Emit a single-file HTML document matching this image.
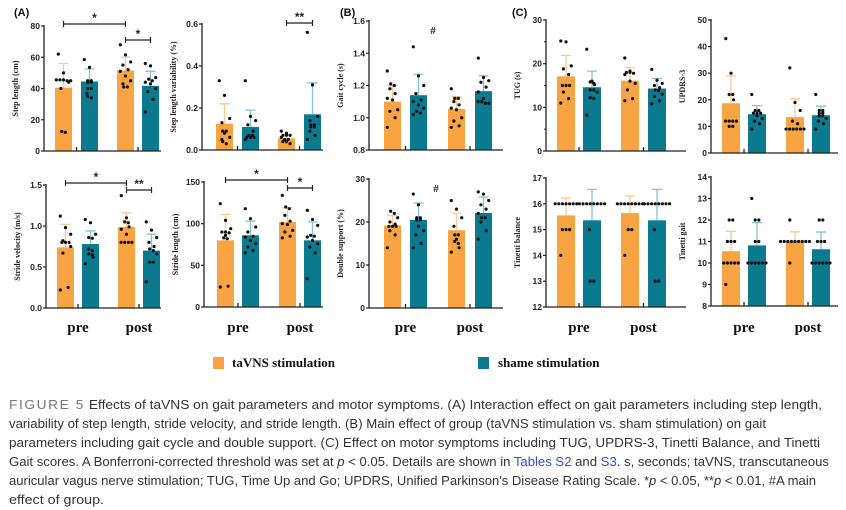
<!DOCTYPE html>
<html><head><meta charset="utf-8">
<style>
html,body{margin:0;padding:0;background:#fff;}
svg{display:block;}
.tk{font-family:"Liberation Sans",sans-serif;font-size:8.5px;font-weight:bold;fill:#222;}
.yl{font-family:"Liberation Serif",serif;font-size:8px;font-weight:bold;fill:#222;}
.xl{font-family:"Liberation Serif",serif;font-size:15px;font-weight:bold;fill:#111;}
.pl{font-family:"Liberation Sans",sans-serif;font-size:11px;font-weight:bold;fill:#111;}
.cap{font-family:"Liberation Sans",sans-serif;font-size:13px;fill:#333;}
</style></head>
<body>
<svg id="fig" width="846" height="510" viewBox="0 0 846 510" xmlns="http://www.w3.org/2000/svg">
<text class="pl" x="14" y="16">(A)</text>
<text class="pl" x="340" y="16">(B)</text>
<text class="pl" x="512" y="16">(C)</text>
<g>
<rect x="213" y="357" width="11" height="12" fill="#F9A443"/>
<text x="232" y="367" style="font-family:'Liberation Serif',serif;font-size:13px;font-weight:bold" fill="#111">taVNS stimulation</text>
<rect x="478" y="357" width="11" height="12" fill="#0B7A8F"/>
<text x="498" y="367" style="font-family:'Liberation Serif',serif;font-size:13px;font-weight:bold" fill="#111">shame stimulation</text>
</g>
<g>
<text class="cap" x="9" y="409" textLength="813" lengthAdjust="spacingAndGlyphs"><tspan fill="#777" letter-spacing="1.5">FIGURE 5</tspan>   Effects of taVNS on gait parameters and motor symptoms. (A) Interaction effect on gait parameters including step length,</text>
<text class="cap" x="9" y="428" textLength="757" lengthAdjust="spacingAndGlyphs">variability of step length, stride velocity, and stride length. (B) Main effect of group (taVNS stimulation vs. sham stimulation) on gait</text>
<text class="cap" x="9" y="447" textLength="811" lengthAdjust="spacingAndGlyphs">parameters including gait cycle and double support. (C) Effect on motor symptoms including TUG, UPDRS-3, Tinetti Balance, and Tinetti</text>
<text class="cap" x="9" y="466" textLength="820" lengthAdjust="spacingAndGlyphs">Gait scores. A Bonferroni-corrected threshold was set at <tspan font-style="italic">p</tspan> &lt; 0.05. Details are shown in <tspan fill="#2a4fd6">Tables S2</tspan> and <tspan fill="#2a4fd6">S3</tspan>. s, seconds; taVNS, transcutaneous</text>
<text class="cap" x="9" y="485" textLength="807" lengthAdjust="spacingAndGlyphs">auricular vagus nerve stimulation; TUG, Time Up and Go; UPDRS, Unified Parkinson's Disease Rating Scale. *<tspan font-style="italic">p</tspan> &lt; 0.05, **<tspan font-style="italic">p</tspan> &lt; 0.01, #A main</text>
<text class="cap" x="9" y="504" textLength="95" lengthAdjust="spacingAndGlyphs">effect of group.</text>
</g>
</svg>
<script>
// ---- data ----
const groups = ["pre-taVNS","pre-sham","post-taVNS","post-sham"];
const stepLenMeans = [40.5,44.5,51.5,41.7];
const stepLenSD = [15.5,8,8.5,9.3];
const stepLenPts = [[62,50,45.5,45.5,45.5,45,44,40,12,12.5,45],[58.5,53.5,45,44,44,40,37,35,34,40,45],[68,61.5,55,52,51,48,45,43,41,41,57],[56,54.5,47,45,44,40,38,33,25,43,46]];
const stepVarMeans = [0.125,0.11,0.055,0.17];
const stepVarSD = [0.095,0.08,0.02,0.15];
const stepVarPts = [[0.33,0.26,0.15,0.13,0.09,0.09,0.08,0.06,0.05,0.04,0.03],[0.33,0.16,0.14,0.12,0.09,0.07,0.07,0.06,0.06,0.06,0.05],[0.09,0.08,0.07,0.07,0.06,0.05,0.05,0.04,0.04,0.03,0.07],[0.56,0.31,0.16,0.14,0.12,0.11,0.11,0.09,0.07,0.05,0.12]];
const velMeans = [0.74,0.78,0.99,0.70];
const velSD = [0.28,0.16,0.17,0.2];
const velPts = [[1.12,0.98,0.9,0.82,0.8,0.8,0.75,0.67,0.25,0.22,0.8],[1.08,1.04,0.9,0.86,0.72,0.7,0.66,0.62,0.54,0.65,0.85],[1.37,1.1,1.04,0.96,0.9,0.8,0.8,0.8,0.8,1.05,0.99],[1.05,0.95,0.86,0.8,0.75,0.66,0.56,0.56,0.32,0.7,0.72]];
const strideMeans = [80,86,102,80];
const strideSD = [31,17,17,22];
const stridePts = [[124,104,94,90,89,86,83,82,25,24,90],[118,106,96,90,85,76,72,68,65,84,80],[134,120,118,103,100,99,92,90,85,83,110],[116,105,86,85,84,80,76,72,65,34,98]];
const gaitMeans = [1.10,1.14,1.055,1.165];
const gaitSD = [0.1,0.13,0.075,0.095];
const gaitPts = [[1.29,1.21,1.18,1.15,1.12,1.11,1.05,1.04,1.0,0.94,1.2],[1.44,1.26,1.2,1.15,1.11,1.08,1.06,1.04,1.03,1.02,1.1],[1.18,1.12,1.12,1.1,1.08,1.05,1.0,0.98,0.95,0.94,1.06],[1.37,1.25,1.22,1.19,1.16,1.12,1.1,1.1,1.09,1.09,1.23]];
const dsMeans = [19.2,20.5,18.1,22.1];
const dsSD = [2.3,3.9,3.9,3.7];
const dsPts = [[22.5,22,21,20,19.5,19,19,18,17,14,19],[26.5,24,21,20.5,19,18,17,15,14,20.5,21],[25,23,21,19,17,16,15.5,15,14,13,17],[27,26.5,25,24,23,21,20,18,16,21,22]];
const tugMeans = [17.1,14.6,16.1,14.3];
const tugSD = [4.8,3.7,3.0,2.3];
const tugPts = [[25,25.2,19.5,18.8,17.5,15,15,13.5,12,11,15],[23.3,16,15.5,15.2,14,13.5,12.2,12,8.2,15.8,14],[21.3,18.3,18,18,17.5,17.8,16,14,12,11.5,15.5],[18.7,16.2,15.5,15,14,13,12.5,11.5,10.8,14.5,13.8]];
const updrsMeans = [18.7,14.6,13.5,14.2];
const updrsSD = [10.3,3.2,6.9,3.4];
const updrsPts = [[43,30,22,22,20,12,12,12,12,10,10],[22,16,16,15,15,15,14,13,12,11,9],[32,19,16,12,11,9,9,9,9,9,9],[22,16,16,15,15,14,14,13,12,11,9]];
const balMeans = [15.55,15.36,15.64,15.36];
const balSD = [0.67,1.2,0.66,1.2];
const balPts = [[16,16,16,16,16,16,15,15,15,14,16],[16,16,16,16,16,16,16,16,15,13,13],[16,16,16,16,16,16,16,15,15,14,16],[16,16,16,16,16,16,16,16,15,13,13]];
const tgMeans = [10.55,10.82,11,10.64];
const tgSD = [0.92,1.06,0.45,0.8];
const tgPts = [[12,12,11,11,11,10,10,10,10,10,9],[13,12,12,11,11,10,10,10,10,10,10],[12,11,11,11,11,11,11,11,11,11,10],[12,12,11,11,10,10,10,10,10,10,11]];
const xCategories = ["pre","post"];
const tickA1 = [0,20,40,60,80];
const tickA2 = [0,0.2,0.4,0.6];
const tickA3 = [0,0.5,1.0,1.5];
const tickA4 = [0,50,100,150];
const tickB1 = [0.8,1.0,1.2,1.4,1.6];
const tickB2 = [0,10,20,30];
const tickC1 = [0,10,20,30];
const tickC2 = [0,10,20,30,40,50];
const tickC3 = [12,13,14,15,16,17];
const tickC4 = [8,9,10,11,12,13,14];

const NS="http://www.w3.org/2000/svg";
const svg=document.getElementById('fig');
function mk(tag,attrs,parent){const e=document.createElementNS(NS,tag);for(const k in attrs)e.setAttribute(k,attrs[k]);(parent||svg).appendChild(e);return e;}
const COL=["#F9A443","#0B7A8F","#F9A443","#0B7A8F"];
const ECOL=["#FBC88E","#86C3D1","#FBC88E","#86C3D1"];

function panel(o){
  const g=mk('g',{});
  
  
  const lo=o.ticks[0],hi=o.ticks[o.ticks.length-1];
  const y=v=>o.y0+(v-lo)/(hi-lo)*(o.y1-o.y0);
  // bars
  o.means.forEach((m,i)=>{
    const bx=o.bx[i];
    const r=mk('rect',{x:bx,y:y(m),width:o.bw,height:o.y0-y(m),fill:COL[i]},g);
    
    
    const cx=bx+o.bw/2, top=y(m+o.sd[i]);
    const eb=mk('path',{d:`M${cx},${y(m)}V${top}M${cx-5},${top}H${cx+5}`,stroke:ECOL[i],'stroke-width':1.3,fill:'none'},g);
    
    
    // points
    const pts=o.pts[i].slice().sort((a,b)=>b-a);
    const used={};
    pts.forEach((v,j)=>{
      const py=y(v);const key=Math.round(py/2.5);
      const same=pts.filter(w=>Math.round(y(w)/2.5)===key).length;
      used[key]=(used[key]||0);
      const k=used[key]++;
      let dx;
      if(same>1) dx=(k-(same-1)/2)*3.6; else dx=(((j*7)%5)-2)*2.6;
      const c=mk('circle',{cx:cx+dx,cy:py,r:1.6,fill:'#111'},g);
      
      
    });
  });
  // axes
  const ax=mk('path',{d:`M${o.ax},${o.y1-1}V${o.y0}H${o.axEnd}`,stroke:'#222','stroke-width':1.3,fill:'none'},g);
  
  
  // tick between pairs
  [ (o.bx[0]+o.bw+o.bx[1])/2, (o.bx[2]+o.bw+o.bx[3])/2 ].forEach(tx=>{
    mk('line',{x1:tx,x2:tx,y1:o.y0-4,y2:o.y0,stroke:'#222','stroke-width':1.3},g);
  });
  o.ticks.forEach(t=>{
    mk('line',{x1:o.ax-3,x2:o.ax,y1:y(t),y2:y(t),stroke:'#222','stroke-width':1.2},g);
    const tl=mk('text',{x:o.ax-4,y:y(t)+3,'text-anchor':'end',class:'tk'},g);
    tl.textContent=o.fmt?o.fmt(t):String(t);
    
    
  });
  if(o.minor){for(let i=0;i<o.ticks.length-1;i++){const m=(o.ticks[i]+o.ticks[i+1])/2;mk('line',{x1:o.ax-2,x2:o.ax,y1:y(m),y2:y(m),stroke:'#222','stroke-width':1},g);}}
  const yl=mk('text',{x:0,y:0,'text-anchor':'middle',class:'yl',transform:`translate(${o.ax-26},${(o.y0+o.y1)/2}) rotate(-90)`},g);
  yl.textContent=o.ylabel;
  
  
  (o.sig||[]).forEach(s=>{
    const x1=o.bx[s[0]]+o.bw/2,x2=o.bx[s[1]]+o.bw/2;
    const br=mk('path',{d:`M${x1},${s[2]-3}V${s[2]+3}M${x1},${s[2]}H${x2}M${x2},${s[2]-3}V${s[2]+3}`,stroke:'#222','stroke-width':1.2,fill:'none'},g);
    
    
    const st=mk('text',{x:(x1+x2)/2,y:s[2]-2,'text-anchor':'middle',style:"font-family:'Liberation Sans',sans-serif;font-size:12px;font-weight:bold",fill:'#222'},g);
    st.textContent=s[3];
    
    
  });
  if(o.hash){const h=mk('text',{x:o.hash[0],y:o.hash[1],'text-anchor':'middle',style:"font-family:'Liberation Serif',serif;font-size:11px;font-weight:bold",fill:'#222'},g);h.textContent='#';
    
    }
  if(o.xlab){
    [[(o.bx[0]+o.bx[1]+o.bw)/2,xCategories[0]],[(o.bx[2]+o.bx[3]+o.bw)/2,xCategories[1]]].forEach(a=>{
      const t=mk('text',{x:a[0],y:332,'text-anchor':'middle',class:'xl'},g);t.textContent=a[1];
      
      
    });
  }
}
const f1=t=>t.toFixed(1);
panel({name:'step-length-chart',ax:44,axEnd:161,y0:151,y1:26,bx:[55,81,117,142],bw:17,means:stepLenMeans,sd:stepLenSD,pts:stepLenPts,ticks:tickA1,ylabel:'Step length (cm)',sig:[[0,2,24,'*'],[2,3,40,'*']]});
panel({name:'step-length-variability-chart',ax:202,axEnd:323,y0:150,y1:24,bx:[216,242,278,304],bw:17,means:stepVarMeans,sd:stepVarSD,pts:stepVarPts,ticks:tickA2,fmt:f1,ylabel:'Step length variability (%)',sig:[[2,3,23,'**']]});
panel({name:'stride-velocity-chart',ax:46,axEnd:161,y0:308,y1:185,bx:[57,82,118,143],bw:17,means:velMeans,sd:velSD,pts:velPts,ticks:tickA3,fmt:f1,ylabel:'Stride velocity (m/s)',sig:[[0,2,183,'*'],[2,3,190,'**']],xlab:true});
panel({name:'stride-length-chart',ax:204,axEnd:323,y0:307,y1:182,bx:[217,242,279,304],bw:17,means:strideMeans,sd:strideSD,pts:stridePts,ticks:tickA4,ylabel:'Stride length (cm)',sig:[[0,2,180,'*'],[2,3,188,'*']],xlab:true});
panel({name:'gait-cycle-chart',ax:369,axEnd:503,y0:150,y1:21,bx:[384,410,448,475],bw:17,means:gaitMeans,sd:gaitSD,pts:gaitPts,ticks:tickB1,fmt:f1,ylabel:'Gait cycle (s)',hash:[433,34]});
panel({name:'double-support-chart',ax:369,axEnd:503,y0:308,y1:179,bx:[384,410,448,475],bw:17,means:dsMeans,sd:dsSD,pts:dsPts,ticks:tickB2,ylabel:'Double support (%)',hash:[436,192],xlab:true});
panel({name:'tug-chart',ax:546,axEnd:686,y0:151,y1:20,bx:[557,583,621,648],bw:18,means:tugMeans,sd:tugSD,pts:tugPts,ticks:tickC1,ylabel:'TUG (s)',minor:true});
panel({name:'updrs3-chart',ax:711,axEnd:838,y0:153,y1:20,bx:[722,748,786,812],bw:18,means:updrsMeans,sd:updrsSD,pts:updrsPts,ticks:tickC2,ylabel:'UPDRS-3'});
panel({name:'tinetti-balance-chart',ax:546,axEnd:686,y0:307,y1:178,bx:[557,583,621,648],bw:18,means:balMeans,sd:balSD,pts:balPts,ticks:tickC3,ylabel:'Tinetti balance',xlab:true});
panel({name:'tinetti-gait-chart',ax:711,axEnd:838,y0:306,y1:177,bx:[722,748,786,812],bw:18,means:tgMeans,sd:tgSD,pts:tgPts,ticks:tickC4,ylabel:'Tinetti gait',xlab:true});
</script>
</body></html>
